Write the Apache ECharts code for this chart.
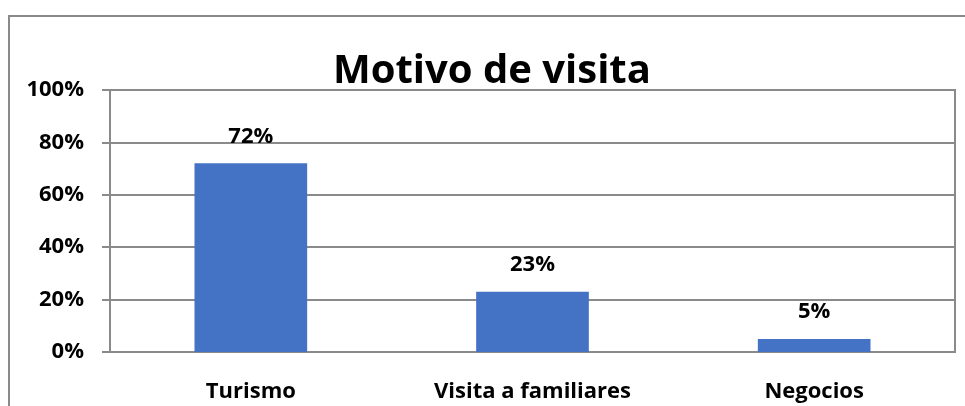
<!DOCTYPE html>
<html>
<head>
<meta charset="utf-8">
<script src="https://cdn.jsdelivr.net/npm/echarts@6/dist/echarts.min.js"></script>
<style>
  html, body { margin: 0; padding: 0; background: #fff; }
  #chart { width: 965px; height: 406px; }
</style>
</head>
<body>
<div id="chart"></div>
<script>
// datos del gráfico
const categorias = ['Turismo', 'Visita a familiares', 'Negocios'];
const valores = [72, 23, 5];
const ticksY = [0, 20, 40, 60, 80, 100];

const chart = echarts.init(document.getElementById('chart'));
const fuente = '"Open Sans", "Noto Sans", sans-serif';

chart.setOption({
  backgroundColor: '#fff',
  animation: false,
  title: {
    text: 'Motivo de visita',
    left: 328,
    top: 43,
    padding: 5,
    textStyle: { fontFamily: fuente, fontWeight: 'bold', fontSize: 40, color: '#000', lineHeight: 48 }
  },
  // marco exterior
  graphic: [{
    type: 'rect',
    shape: { x: 9, y: 16, width: 980, height: 420 },
    style: { fill: 'none', stroke: '#8a8a8a', lineWidth: 2 },
    silent: true
  }],
  grid: {
    left: 110, right: 10, top: 90, bottom: 54,
    show: true, borderColor: '#8a8a8a', borderWidth: 2
  },
  xAxis: {
    type: 'category',
    data: categorias,
    axisLine: { show: false },
    axisTick: { show: false },
    axisLabel: { color: '#000', fontFamily: fuente, fontWeight: 'bold', fontSize: 22, margin: 29 }
  },
  yAxis: {
    type: 'value',
    min: ticksY[0],
    max: ticksY[ticksY.length - 1],
    interval: 20,
    axisLine: { show: true, lineStyle: { color: '#8a8a8a', width: 2 } },
    axisTick: { show: true, length: 8, lineStyle: { color: '#8a8a8a', width: 2 } },
    splitLine: { lineStyle: { color: '#8a8a8a', width: 2 } },
    axisLabel: {
      color: '#000', fontFamily: fuente, fontWeight: 'bold', fontSize: 22, margin: 26,
      formatter: v => v + '%'
    }
  },
  series: [{
    type: 'bar',
    data: valores,
    barWidth: '40%',
    itemStyle: { color: '#4472C4' },
    label: {
      show: true,
      position: 'top',
      distance: 16,
      color: '#000', fontFamily: fuente, fontWeight: 'bold', fontSize: 22,
      formatter: p => p.value + '%'
    }
  }]
});
</script>
</body>
</html>
